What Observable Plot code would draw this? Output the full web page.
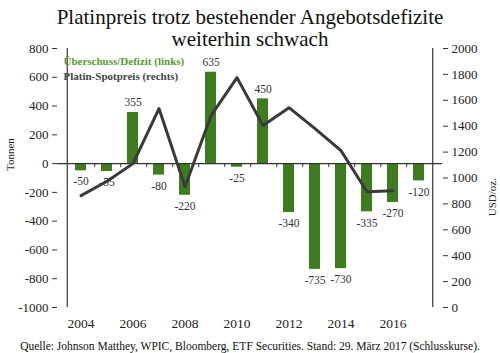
<!DOCTYPE html>
<html><head><meta charset="utf-8">
<script src="https://cdn.jsdelivr.net/npm/d3@7"></script>
<script src="https://cdn.jsdelivr.net/npm/@observablehq/plot@0.6"></script>
<style>
body{margin:0;background:#fff;}
#wrap{position:relative;width:500px;height:353px;font-family:"Liberation Serif",serif;color:#111;}
#chart{position:absolute;top:0;left:0;}
#chart svg text{font-family:"Liberation Serif",serif;}
#title{position:absolute;top:6px;left:0;width:500px;text-align:center;font-size:21px;line-height:22px;}
#cap{position:absolute;top:339px;left:0;width:500px;text-align:center;font-size:11.5px;line-height:14px;}
</style></head>
<body>
<div id="wrap">
<div id="chart"></div>
<div id="title">Platinpreis trotz bestehender Angebotsdefizite<br>weiterhin schwach</div>
<div id="cap">Quelle: Johnson Matthey, WPIC, Bloomberg, ETF Securities. Stand: 29. März 2017 (Schlusskurse).</div>
</div>
<script>
const years = [2004,2005,2006,2007,2008,2009,2010,2011,2012,2013,2014,2015,2016,2017];
const balance = [-50,-55,355,-80,-220,635,-25,450,-340,-735,-730,-335,-270,-120];
const spotYears = [2004,2005,2006,2007,2008,2009,2010,2011,2012,2013,2014,2015,2016];
const spot = [864,975,1111,1536,933,1481,1775,1405,1543,1381,1211,894,902];
const xTicks = [2004,2006,2008,2010,2012,2014,2016];
const leftTicks = [-1000,-800,-600,-400,-200,0,200,400,600,800];
const rightTicks = [0,200,400,600,800,1000,1200,1400,1600,1800,2000];

// right axis (0..2000) mapped onto left axis (-1000..800)
const toLeft = v => -1000 + v * 0.9;
const fromLeft = v => Math.round((v + 1000) / 0.9);

const bars = years.map((y, i) => ({year: y, value: balance[i]}));
const line = spotYears.map((y, i) => ({year: y, price: spot[i], left: toLeft(spot[i])}));

const green = "#3e7d1f";
const dark = "#3a3a3a";
const ff = "Liberation Serif";

const chart = Plot.plot({
  width: 500,
  height: 353,
  marginTop: 48,
  marginBottom: 46,
  marginLeft: 57,
  marginRight: 58,
  style: {fontFamily: "'Liberation Serif', serif", fontSize: "13px", color: "#222", background: "transparent", overflow: "visible"},
  x: {type: "band", domain: years, padding: 0.56},
  y: {domain: [-1000, 800]},
  marks: [
    Plot.barY(bars, {x: "year", y: "value", fill: green}),
    Plot.ruleY([0], {stroke: "#333", strokeWidth: 1.2}),
    Plot.ruleX(years.slice(0, 13), {x: d => d, y1: 0, y2: -28, dx: 13.75, stroke: "#333"}),
    Plot.ruleX([2004], {x: d => d, y1: -1000, y2: 800, dx: -13.75, stroke: "#333", strokeWidth: 1.2}),
    Plot.ruleX([2017], {x: d => d, y1: -1000, y2: 800, dx: 13.75, stroke: "#333", strokeWidth: 1.2}),
    Plot.line(line, {x: "year", y: "left", stroke: dark, strokeWidth: 3}),
    Plot.text(bars.filter(d => d.value >= 0), {x: "year", y: "value", text: d => String(d.value), dy: -10, fontSize: 11.5, fontFamily: ff, fill: "#333"}),
    Plot.text(bars.filter(d => d.value < 0), {x: "year", y: "value", text: d => String(d.value), dy: 11, fontSize: 11.5, fontFamily: ff, fill: "#333"}),
    Plot.axisY({anchor: "left", ticks: leftTicks, tickFormat: d => String(d), tickSize: 5, tickPadding: 4, label: null, fontSize: 13, fontFamily: ff, stroke: "#333"}),
    Plot.axisY({anchor: "right", ticks: rightTicks.map(toLeft), tickFormat: d => String(fromLeft(d)), tickSize: 5, tickPadding: 4, label: null, fontSize: 13, fontFamily: ff, stroke: "#333"}),
    Plot.axisX({anchor: "bottom", ticks: xTicks, tickFormat: d => String(d), tickSize: 0, tickPadding: 11, label: null, fontSize: 13.5, fontFamily: ff}),
    Plot.text(["Tonnen"], {frameAnchor: "left", dx: -47, dy: -7, rotate: -90, fontSize: 11, fontFamily: ff, fill: "#222"}),
    Plot.text(["USD/oz."], {frameAnchor: "right", dx: 50, dy: 0, rotate: -90, fontSize: 11, fontFamily: ff, fill: "#222"}),
    Plot.text(["Überschuss/Defizit (links)"], {frameAnchor: "top-left", dx: 6, dy: 9, textAnchor: "start", fontSize: 11, fontFamily: ff, fontWeight: "bold", fill: "#5a9a35"}),
    Plot.text(["Platin-Spotpreis (rechts)"], {frameAnchor: "top-left", dx: 6, dy: 24, textAnchor: "start", fontSize: 11, fontFamily: ff, fontWeight: "bold", fill: "#444"})
  ]
});
document.getElementById("chart").appendChild(chart);
</script>
</body></html>
